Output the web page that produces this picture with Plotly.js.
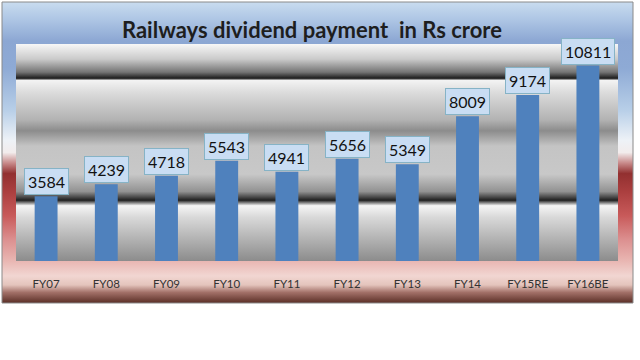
<!DOCTYPE html>
<html>
<head>
<meta charset="utf-8">
<script src="https://cdn.plot.ly/plotly-3.0.1.min.js"></script>
<style>html,body{margin:0;padding:0;background:#fff;}#chart{width:640px;height:360px;}</style>
</head>
<body>
<div id="chart"></div>
<script>
var categories = ["FY07","FY08","FY09","FY10","FY11","FY12","FY13","FY14","FY15RE","FY16BE"];
var dividend = [3584, 4239, 4718, 5543, 4941, 5656, 5349, 8009, 9174, 10811];
var titleText = "Railways dividend payment  in Rs crore";

function gradientSvg(stops) {
  var s = '<svg xmlns="http://www.w3.org/2000/svg" width="100" height="100" viewBox="0 0 100 100" preserveAspectRatio="none">' +
    '<defs><linearGradient id="g" x1="0" y1="0" x2="0" y2="1">';
  stops.forEach(function (st) { s += '<stop offset="' + st[0] + '" stop-color="' + st[1] + '"/>'; });
  s += '</linearGradient></defs><rect x="0" y="0" width="100" height="100" fill="url(#g)"/></svg>';
  return 'data:image/svg+xml;charset=utf-8,' + encodeURIComponent(s);
}

var outerStops = [
  [0.00, "#c9dcef"], [0.06, "#adc5e4"], [0.13, "#8ca7d3"], [0.22, "#8eaad5"],
  [0.36, "#b8cfe8"], [0.46, "#eef2f7"], [0.50, "#f2ecec"], [0.535, "#c88a8a"],
  [0.57, "#923030"], [0.63, "#ab3f3f"], [0.71, "#c85a5a"], [0.79, "#dc9090"],
  [0.86, "#e9b6b2"], [0.91, "#f1d6d2"], [0.94, "#e4c4bc"], [0.965, "#a27068"],
  [1.00, "#5a2e26"]
];
var plotStops = [
  [0.00, "#f7f7f7"], [0.07, "#cacaca"], [0.13, "#747474"], [0.158, "#1c1c1c"],
  [0.168, "#f3f3f3"], [0.22, "#dddddd"], [0.35, "#b2b2b2"], [0.40, "#8c8c8c"],
  [0.47, "#c4c4c4"], [0.60, "#c8c8c8"], [0.68, "#929292"], [0.72, "#202020"],
  [0.745, "#f5f5f5"], [0.80, "#d8d8d8"], [1.00, "#8c8c8c"]
];

var W = 640, H = 360;
var mL = 16, mR = 22, mT = 44, mB = 99;
var pw = W - mL - mR, ph = H - mT - mB;
function px2x(px) { return (px - mL) / pw; }
function py2y(py) { return (H - mB - py) / ph; }

var boxX0 = px2x(2), boxX1 = px2x(633), boxY0 = py2y(2), boxY1 = py2y(303);

var annotations = categories.map(function (c, i) {
  return {
    x: c, y: dividend[i], xref: "x", yref: "y",
    text: String(dividend[i]), showarrow: false,
    yanchor: "bottom", yshift: 1,
    font: {family: "Lato, 'Noto Sans', sans-serif", size: 16, color: "#111"},
    bgcolor: "#c9ddf3", bordercolor: "#86b3c6", borderwidth: 1, borderpad: 3
  };
});

var trace = {
  type: "bar", x: categories, y: dividend,
  marker: {color: "#4f81bd", line: {width: 0}},
  hoverinfo: "skip"
};

var layout = {
  width: W, height: H,
  margin: {l: mL, r: mR, t: mT, b: mB, pad: 0},
  paper_bgcolor: "#ffffff",
  plot_bgcolor: "rgba(0,0,0,0)",
  showlegend: false,
  bargap: 0.62,
  title: {
    text: titleText, xref: "container", yref: "container",
    x: 312 / 640, xanchor: "center", y: 1 - 30 / 360, yanchor: "middle",
    font: {family: "Lato, 'Noto Sans', sans-serif", size: 22, color: "#1e1e1e", weight: "bold"}
  },
  xaxis: {
    type: "category", showgrid: false, zeroline: false, showline: false,
    ticks: "", ticklabelstandoff: 14,
    tickfont: {family: "Lato, 'Noto Sans', sans-serif", size: 11.5, color: "#333333"}
  },
  yaxis: {
    range: [0, 12000], showgrid: false, zeroline: false, showline: false,
    showticklabels: false, ticks: ""
  },
  images: [
    {source: gradientSvg(outerStops), xref: "paper", yref: "paper",
     x: boxX0, y: boxY0, sizex: boxX1 - boxX0, sizey: boxY0 - boxY1,
     xanchor: "left", yanchor: "top", sizing: "stretch", layer: "below"},
    {source: gradientSvg(plotStops), xref: "paper", yref: "paper",
     x: 0, y: 1, sizex: 1, sizey: 1,
     xanchor: "left", yanchor: "top", sizing: "stretch", layer: "below"}
  ],
  shapes: [
    {type: "rect", xref: "paper", yref: "paper", x0: boxX0, x1: boxX1, y0: boxY1, y1: boxY0,
     line: {color: "#8a8a8a", width: 1}, fillcolor: "rgba(0,0,0,0)", layer: "above"}
  ],
  annotations: annotations
};

Plotly.newPlot("chart", [trace], layout, {displayModeBar: false, staticPlot: true});
</script>
</body>
</html>
